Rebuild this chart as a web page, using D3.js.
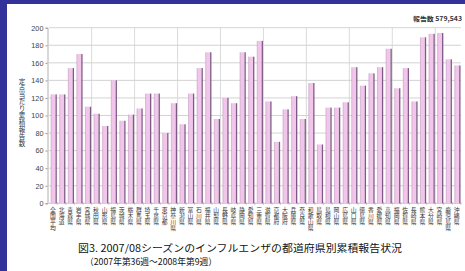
<!DOCTYPE html>
<html>
<head>
<meta charset="utf-8">
<script src="https://cdn.jsdelivr.net/npm/d3@7"></script>
<style>
	body { margin: 0; background: #fff; }
	svg { display: block; }
</style>
</head>
<body>
<svg id="chart"></svg>
<script>
// 都道府県 (全国平均 first)
const prefectures = ["全国平均", "北海道", "青森県", "岩手県", "宮城県", "秋田県", "山形県", "福島県",
	"茨城県", "栃木県", "群馬県", "埼玉県", "千葉県", "東京都", "神奈川県", "新潟県", "富山県", "石川県",
	"福井県", "山梨県", "長野県", "岐阜県", "静岡県", "愛知県", "三重県", "滋賀県", "京都府", "大阪府",
	"兵庫県", "奈良県", "和歌山県", "鳥取県", "島根県", "岡山県", "広島県", "山口県", "徳島県", "香川県",
	"愛媛県", "高知県", "福岡県", "佐賀県", "長崎県", "熊本県", "大分県", "宮崎県", "鹿児島県", "沖縄県"];

// 定点当たり累積報告数
const reports = [124, 124, 154, 170, 110, 102, 88, 140,
	94, 101, 108, 125, 125, 80, 114, 90, 125, 154,
	172, 96, 120, 114, 172, 167, 185, 116, 70, 107,
	122, 96, 137, 67, 109, 109, 115, 155, 134, 148,
	155, 176, 131, 154, 116, 189, 193, 194, 164, 157];

const yTicks = [0, 20, 40, 60, 80, 100, 120, 140, 160, 180, 200];
const yTitle = "定点当たり累積報告数";
const totalLabel = "報告数 579,543";
const caption1 = "図3. 2007/08シーズンのインフルエンザの都道府県別累積報告状況";
const caption2 = "（2007年第36週〜2008年第9週）";

function makeChart() {
	let w = 465;
	let h = 271;
	let jp = "'Noto Sans CJK JP', sans-serif";

	let chart = d3.select('#chart')
		.attr('width', w)
		.attr('height', h);

	// blue frame + white panel
	chart.append('rect').attr('width', w).attr('height', h).attr('fill', '#32329a');
	chart.append('rect').attr('x', 7).attr('y', 4).attr('width', w - 7).attr('height', h - 4).attr('fill', '#fff');

	let xScale = d3.scaleBand()
		.domain(prefectures)
		.range([48.7, 461])
		.padding(0);

	let yScale = d3.scaleLinear()
		.domain([0, 200])
		.range([203.3, 27.7]);

	let step = xScale.step();

	//gridlines
	chart.append('g')
		.selectAll('line')
		.data(yTicks.filter(d => d > 0))
		.join('line')
		.attr('x1', 49)
		.attr('x2', 461)
		.attr('y1', d => yScale(d))
		.attr('y2', d => yScale(d))
		.attr('stroke', '#c8c8c8')
		.attr('stroke-width', 0.8);

	chart.append('g')
		.selectAll('line')
		.data(prefectures.filter((d, i) => i > 0 && i % 5 === 0))
		.join('line')
		.attr('x1', d => xScale(d))
		.attr('x2', d => xScale(d))
		.attr('y1', yScale(200))
		.attr('y2', yScale(0))
		.attr('stroke', '#d2d2d2')
		.attr('stroke-width', 0.8);

	//floor line + ticks
	chart.append('line')
		.attr('x1', 48.7).attr('x2', 461)
		.attr('y1', yScale(0)).attr('y2', yScale(0))
		.attr('stroke', '#b8b8b8')
		.attr('stroke-width', 0.8);

	chart.append('g')
		.selectAll('line')
		.data(prefectures)
		.join('line')
		.attr('x1', d => xScale(d) + step)
		.attr('x2', d => xScale(d) + step)
		.attr('y1', yScale(0) - 1)
		.attr('y2', yScale(0) + 1.5)
		.attr('stroke', '#c9a6c6')
		.attr('stroke-width', 0.8);

	//bars: front face + dark side
	let bars = chart.append('g');
	bars.selectAll('.front')
		.data(prefectures)
		.join('rect')
		.attr('class', 'front')
		.attr('x', d => xScale(d) + 2.4)
		.attr('width', 4.4)
		.attr('y', (d, i) => yScale(reports[i]))
		.attr('height', (d, i) => yScale(0) - yScale(reports[i]))
		.attr('fill', '#f1c6ea');

	bars.selectAll('.edge')
		.data(prefectures)
		.join('line')
		.attr('class', 'edge')
		.attr('x1', d => xScale(d) + 2.4)
		.attr('x2', d => xScale(d) + 2.4)
		.attr('y1', (d, i) => yScale(reports[i]))
		.attr('y2', yScale(0))
		.attr('stroke', '#c39ac0')
		.attr('stroke-width', 0.6);

	bars.selectAll('.side')
		.data(prefectures)
		.join('rect')
		.attr('class', 'side')
		.attr('x', d => xScale(d) + 6.8)
		.attr('width', 1.3)
		.attr('y', (d, i) => yScale(reports[i]))
		.attr('height', (d, i) => yScale(0) - yScale(reports[i]))
		.attr('fill', '#7c5a84');

	//y axis
	let yAxis = d3.axisLeft(yScale)
		.tickValues(yTicks)
		.tickSize(2)
		.tickPadding(2);

	let ag = chart.append('g')
		.attr('transform', 'translate(47.5, 0)')
		.call(yAxis);
	ag.select('.domain').attr('stroke', '#b0b0b0');
	ag.selectAll('.tick line').attr('stroke', '#999');
	ag.selectAll('.tick text')
		.attr('fill', '#444')
		.style('font-family', "'Liberation Sans', Arial, sans-serif")
		.style('font-size', '7.3px');

	//category labels, written top to bottom
	chart.append('g')
		.selectAll('text')
		.data(prefectures)
		.join('text')
		.attr('x', d => xScale(d) + step / 2)
		.attr('y', 206.5)
		.style('writing-mode', 'vertical-rl')
		.style('text-orientation', 'upright')
		.style('letter-spacing', '0.4px')
		.style('font-family', jp)
		.style('font-size', '5.8px')
		.attr('fill', '#333')
		.text(d => d);

	//y title
	chart.append('text')
		.attr('x', 22)
		.attr('y', 78)
		.style('writing-mode', 'vertical-rl')
		.style('text-orientation', 'upright')
		.style('letter-spacing', '0.4px')
		.style('font-family', jp)
		.style('font-size', '6.5px')
		.attr('fill', '#333')
		.text(yTitle);

	//total
	chart.append('text')
		.attr('x', 413)
		.attr('y', 20.5)
		.attr('textLength', 49)
		.attr('lengthAdjust', 'spacingAndGlyphs')
		.style('font-family', jp)
		.style('font-size', '6px')
		.style('font-weight', 'bold')
		.attr('fill', '#333')
		.text(totalLabel);

	//caption
	chart.append('text')
		.attr('x', 78)
		.attr('y', 251.8)
		.attr('textLength', 324)
		.attr('lengthAdjust', 'spacingAndGlyphs')
		.style('font-family', jp)
		.style('font-size', '10px')
		.attr('fill', '#111')
		.text(caption1);

	chart.append('text')
		.attr('x', 85)
		.attr('y', 265.3)
		.attr('textLength', 132)
		.attr('lengthAdjust', 'spacingAndGlyphs')
		.style('font-family', jp)
		.style('font-size', '9px')
		.attr('fill', '#111')
		.text(caption2);
}

window.onload = function () {
	makeChart();
}
</script>
</body>
</html>
